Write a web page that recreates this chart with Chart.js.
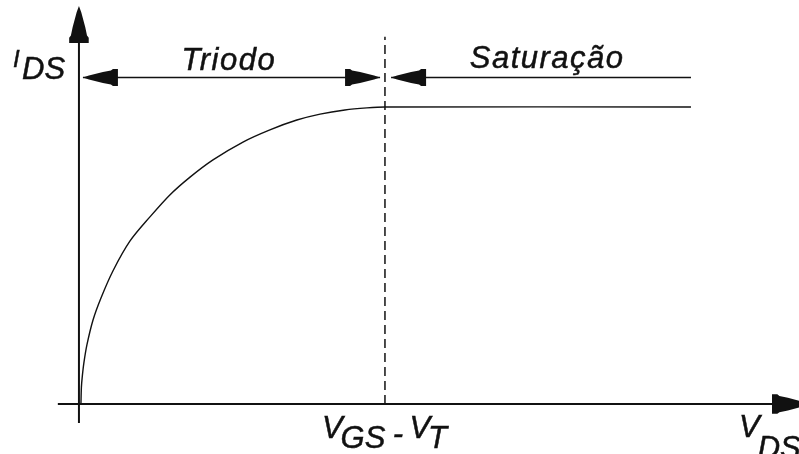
<!DOCTYPE html>
<html>
<head>
<meta charset="utf-8">
<script src="https://cdn.jsdelivr.net/npm/chart.js@4.4.1/dist/chart.umd.min.js"></script>
<style>
  body { margin: 0; background: #fff; }
  #wrap { width: 799px; height: 454px; }
</style>
</head>
<body>
<div id="wrap"><canvas id="iv"></canvas></div>
<script>
// V_DS normalised so that V_GS - V_T = 1, I_DS normalised to the saturation current
const vds = [0.0065, 0.008, 0.011, 0.016, 0.026, 0.046, 0.072, 0.111, 0.167, 0.232,
  0.297, 0.363, 0.438, 0.536, 0.624, 0.712, 0.788, 0.869, 0.941, 1.0, 2.0];
const ids = [0, 0.057, 0.094, 0.138, 0.199, 0.283, 0.357, 0.448, 0.549, 0.63,
  0.704, 0.764, 0.822, 0.882, 0.923, 0.956, 0.976, 0.99, 0.997, 1.0, 1.0];

const vSat = 1.0;          // V_GS - V_T
const vEnd = 2.0;          // end of the saturation span
const regionNames = ["Triodo", "Saturação"];

const ink = "#111";
const labelFont = 'italic 31px "Liberation Sans", Arial, sans-serif';

// arrow head outline, tip at origin, pointing along +x
const headShape = [[0, 0], [-6, 2], [-20, 5.5], [-28, 7], [-30, 8.5], [-35, 8.5]];

function arrowHead(ctx, x, y, angle, sx, sy) {
  ctx.save();
  ctx.translate(x, y);
  ctx.rotate(angle);
  ctx.beginPath();
  headShape.forEach(function (p, i) {
    if (i == 0) ctx.moveTo(p[0] * sx, p[1] * sy);
    else ctx.lineTo(p[0] * sx, p[1] * sy);
  });
  for (var i = headShape.length - 1; i > 0; i--) {
    ctx.lineTo(headShape[i][0] * sx, -headShape[i][1] * sy);
  }
  ctx.closePath();
  ctx.fillStyle = ink;
  ctx.fill();
  ctx.restore();
}

function line(ctx, x1, y1, x2, y2, w) {
  ctx.beginPath();
  ctx.moveTo(x1, y1);
  ctx.lineTo(x2, y2);
  ctx.lineWidth = w;
  ctx.strokeStyle = ink;
  ctx.stroke();
}

// slightly heavier text, like the rest of the drawing
function label(ctx, text, x, y) {
  ctx.fillText(text, x, y);
  ctx.lineWidth = 0.5;
  ctx.strokeStyle = ink;
  ctx.strokeText(text, x, y);
}

// text with a same-size subscript dropped below the baseline
function subText(ctx, main, sub, x, y, drop) {
  ctx.font = labelFont;
  label(ctx, main, x, y);
  var w = ctx.measureText(main).width;
  label(ctx, sub, x + w - 2, y + drop);
}

const diagram = {
  id: "diagram",
  afterDatasetsDraw(chart) {
    const ctx = chart.ctx;
    const X = chart.scales.x, Y = chart.scales.y;
    const x0 = X.getPixelForValue(0), y0 = Y.getPixelForValue(0);

    ctx.save();
    // axes
    line(ctx, X.getPixelForValue(-0.069), y0, X.getPixelForValue(2.36), y0, 2);
    line(ctx, x0, Y.getPixelForValue(-0.064), x0, Y.getPixelForValue(1.31), 2);
    arrowHead(ctx, X.getPixelForValue(2.386), y0, 0, 1.06, 1.15);
    arrowHead(ctx, x0, Y.getPixelForValue(1.34), -Math.PI / 2, 1.06, 1.15);

    // region dimension lines
    const yr = Y.getPixelForValue(1.099);
    const xa = X.getPixelForValue(0.013), xb = X.getPixelForValue(0.984);
    const xc = X.getPixelForValue(1.02), xd = X.getPixelForValue(vEnd);
    line(ctx, xa, yr, xb, yr, 1.6);
    line(ctx, xc, yr, xd, yr, 1.6);
    arrowHead(ctx, xa, yr, Math.PI, 1, 1);
    arrowHead(ctx, xb, yr, 0, 1, 1);
    arrowHead(ctx, xc, yr, Math.PI, 1, 1);

    // labels
    ctx.fillStyle = ink;
    ctx.textBaseline = "alphabetic";
    ctx.textAlign = "center";
    ctx.font = labelFont;
    ctx.letterSpacing = "1.5px";
    label(ctx, regionNames[0], X.getPixelForValue(0.49), Y.getPixelForValue(1.125));
    label(ctx, regionNames[1], X.getPixelForValue(1.53), Y.getPixelForValue(1.132));

    ctx.textAlign = "left";
    ctx.letterSpacing = "0px";
    ctx.font = 'italic 24px "Liberation Sans", Arial, sans-serif';
    label(ctx, "I", 13, Y.getPixelForValue(1.134));
    ctx.font = labelFont;
    label(ctx, "DS", 22, Y.getPixelForValue(1.094));

    const yb = Y.getPixelForValue(-0.114);
    subText(ctx, "V", "GS", X.getPixelForValue(0.794), yb, 10);
    ctx.textAlign = "center";
    label(ctx, "-", X.getPixelForValue(1.042), yb + 6);
    ctx.textAlign = "left";
    subText(ctx, "V", "T", X.getPixelForValue(1.08), yb, 10);
    subText(ctx, "V", "DS", X.getPixelForValue(2.157), Y.getPixelForValue(-0.111), 21);
    ctx.restore();
  },
};

new Chart("iv", {
  type: "line",
  data: {
    datasets: [
      {
        data: vds.map(function (v, i) { return { x: v, y: ids[i] }; }),
        borderColor: ink,
        borderWidth: 1.4,
        pointRadius: 0,
        tension: 0.3,
        fill: false,
      },
      {
        data: [{ x: vSat, y: 0 }, { x: vSat, y: 1.236 }],
        borderColor: ink,
        borderWidth: 1.5,
        borderDash: [9, 5],
        pointRadius: 0,
        fill: false,
      },
    ],
  },
  options: {
    responsive: true,
    maintainAspectRatio: false,
    animation: false,
    layout: { padding: 0 },
    plugins: { legend: { display: false }, tooltip: { enabled: false } },
    scales: {
      x: { type: "linear", display: false, min: -0.258, max: 2.353 },
      y: { type: "linear", display: false, min: -0.168, max: 1.36 },
    },
  },
  plugins: [diagram],
});
</script>
</body>
</html>
